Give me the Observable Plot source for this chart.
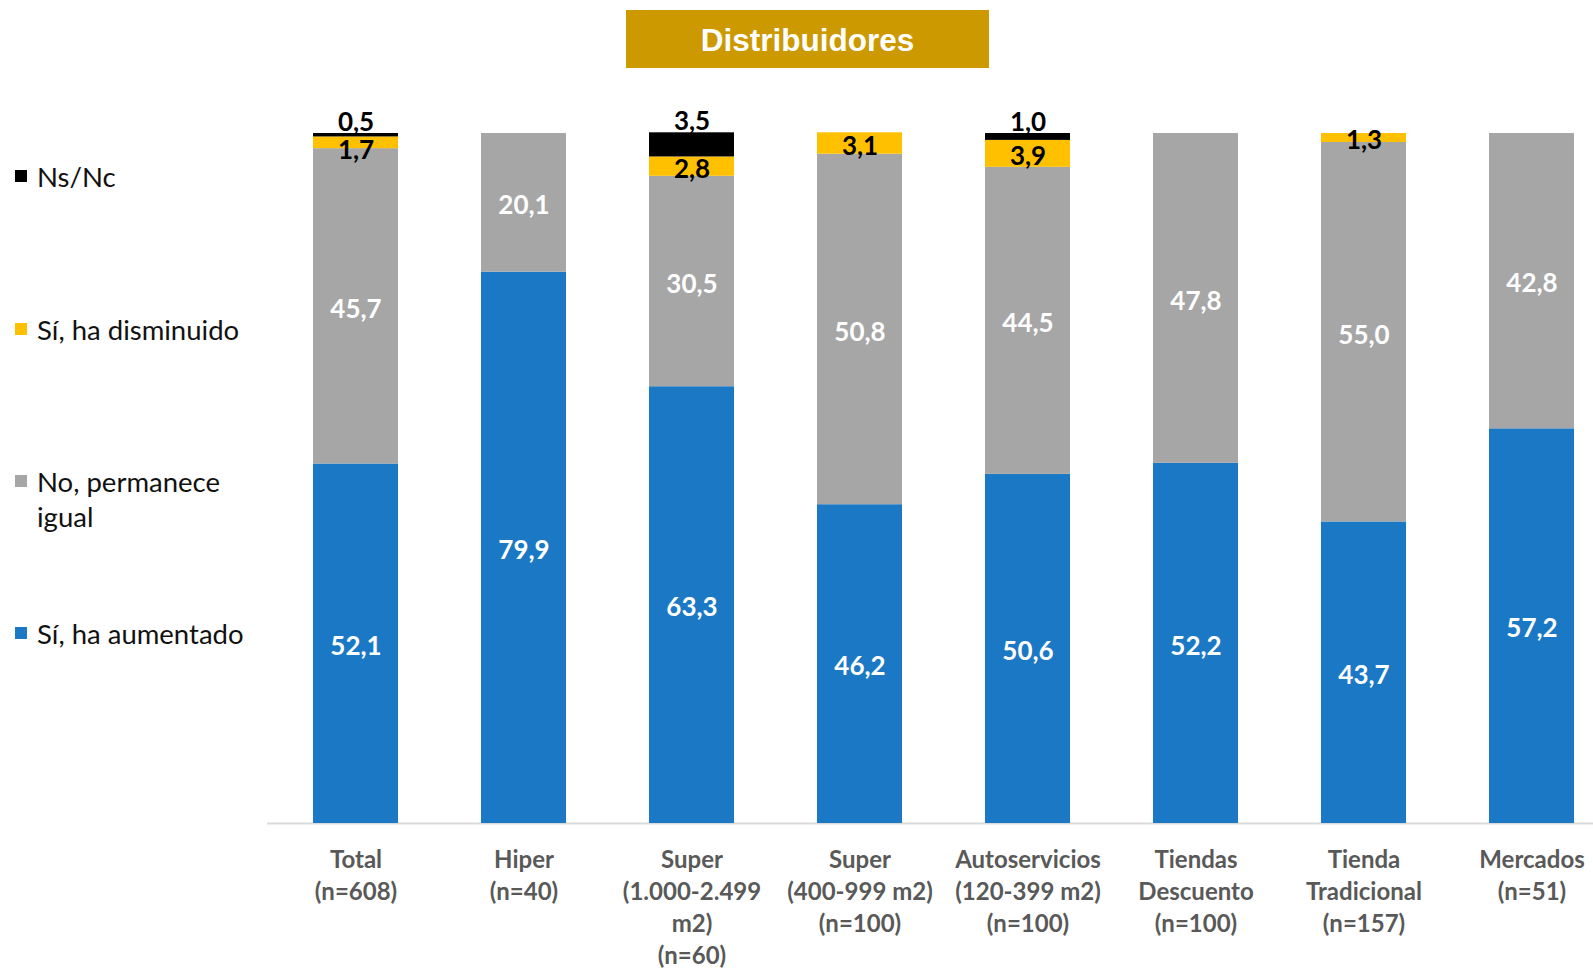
<!DOCTYPE html>
<html>
<head>
<meta charset="utf-8">
<script src="https://cdn.jsdelivr.net/npm/d3@7"></script>
<script src="https://cdn.jsdelivr.net/npm/@observablehq/plot@0.6"></script>
<style>
  html, body { margin: 0; padding: 0; background: #fff; overflow: hidden; }
  #wrap { position: relative; width: 1593px; height: 968px; font-family: Lato, "Open Sans", sans-serif; }
  #titlebar { height: 80px; position: relative; }
  #title { position: absolute; left: 626px; top: 10px; width: 363px; height: 58px; background: #CC9900;
           color: #fff; font-family: "Liberation Sans", Arial, sans-serif; font-weight: bold; font-size: 31.5px;
           display: flex; align-items: center; justify-content: center; box-sizing: border-box; padding-top: 3px; }
  .leg { position: absolute; left: 15px; font-family: Lato, sans-serif; font-size: 27.5px; color: #111; line-height: 35px; }
  .leg .sw { position: absolute; left: 0; top: 11px; width: 12px; height: 12px; }
  .leg .tx { position: absolute; left: 22px; top: 0; white-space: nowrap; }
</style>
</head>
<body>
<div id="wrap">
  <div id="titlebar"><div id="title">Distribuidores</div></div>
  <div id="chart"></div>
  <div id="legend"></div>
</div>
<script>
// ---- Data ----
const categories = [
  "Total\n(n=608)",
  "Hiper\n(n=40)",
  "Super\n(1.000-2.499\nm2)\n(n=60)",
  "Super\n(400-999 m2)\n(n=100)",
  "Autoservicios\n(120-399 m2)\n(n=100)",
  "Tiendas\nDescuento\n(n=100)",
  "Tienda\nTradicional\n(n=157)",
  "Mercados\n(n=51)"
];
const seriesNames = ["Sí, ha aumentado", "No, permanece igual", "Sí, ha disminuido", "Ns/Nc"];
const aumentado  = [52.1, 79.9, 63.3, 46.2, 50.6, 52.2, 43.7, 57.2];
const igual      = [45.7, 20.1, 30.5, 50.8, 44.5, 47.8, 55.0, 42.8];
const disminuido = [1.7, 0, 2.8, 3.1, 3.9, 0, 1.3, 0];
const nsnc       = [0.5, 0, 3.5, 0, 1.0, 0, 0, 0];
const seriesColors = ["#1B78C4", "#A6A6A6", "#FFC000", "#000000"];
const legendOrder = ["Ns/Nc", "Sí, ha disminuido", "No, permanece igual", "Sí, ha aumentado"];
const legendLabels = ["Ns/Nc", "Sí, ha disminuido", "No, permanece<br>igual", "Sí, ha aumentado"];

// ---- Build table ----
const seriesValues = [aumentado, igual, disminuido, nsnc];
const rows = categories.flatMap((c, i) =>
  seriesNames.map((s, j) => ({cat: c, series: s, value: seriesValues[j][i], ns: nsnc[i]}))
).filter(d => d.value > 0);
const totals = categories.map((c, i) => ({cat: c, total: d3.sum(seriesValues, v => v[i]), ns: nsnc[i]}));
const fmt = v => d3.format(".1f")(v).replace(".", ",");

const labelRows = rows.filter(d => d.series !== seriesNames[3]);
// thin "disminuido" segments right under an Ns/Nc label are nudged down to avoid collision
const crowded = d => d.series === seriesNames[2] && d.ns > 0 && d.value < 2;

const chart = Plot.plot({
  width: 1593,
  height: 888,
  marginTop: 53,
  marginBottom: 145,
  marginLeft: 267,
  marginRight: 0,
  style: {fontFamily: "Lato, sans-serif", fontSize: "24px", background: "white", overflow: "visible"},
  x: {domain: categories, range: [312, 1575], paddingInner: 0.495, paddingOuter: 0, label: null},
  y: {domain: [0, 100], axis: null},
  color: {domain: seriesNames, range: seriesColors},
  marks: [
    Plot.ruleY([0], {stroke: "#D9D9D9", strokeWidth: 2}),
    Plot.barY(rows, {x: "cat", y: "value", fill: "series"}),
    Plot.text(labelRows, Plot.stackY({
      x: "cat", y: "value",
      text: d => d.series === seriesNames[2] ? "" : fmt(d.value),
      fill: "white", fontSize: 26, fontWeight: "bold", dy: 3
    })),
    Plot.text(labelRows, Plot.stackY({
      x: "cat", y: "value",
      text: d => d.series === seriesNames[2] && !crowded(d) ? fmt(d.value) : "",
      fill: "black", fontSize: 26, fontWeight: "bold", dy: 3
    })),
    Plot.text(labelRows, Plot.stackY({
      x: "cat", y: "value",
      text: d => crowded(d) ? fmt(d.value) : "",
      fill: "black", fontSize: 26, fontWeight: "bold", dy: 8
    })),
    Plot.text(totals.filter(d => d.ns > 0), {
      x: "cat", y: "total", text: d => fmt(d.ns),
      fill: "black", fontSize: 26, fontWeight: "bold", lineAnchor: "bottom", dy: -3
    }),
    Plot.axisX({tickSize: 0, tickPadding: 22, fontSize: 24, fontWeight: "bold", fill: "#595959", lineHeight: 1.33, label: null})
  ]
});
document.getElementById("chart").appendChild(chart);

// ---- Legend ----
const legTops = [159, 312, 464, 616];
const leg = document.getElementById("legend");
legendOrder.forEach((s, k) => {
  const div = document.createElement("div");
  div.className = "leg";
  div.style.top = legTops[k] + "px";
  const col = seriesColors[seriesNames.indexOf(s)];
  div.innerHTML = `<span class="sw" style="background:${col}"></span><span class="tx">${legendLabels[k]}</span>`;
  leg.appendChild(div);
});
</script>
</body>
</html>
